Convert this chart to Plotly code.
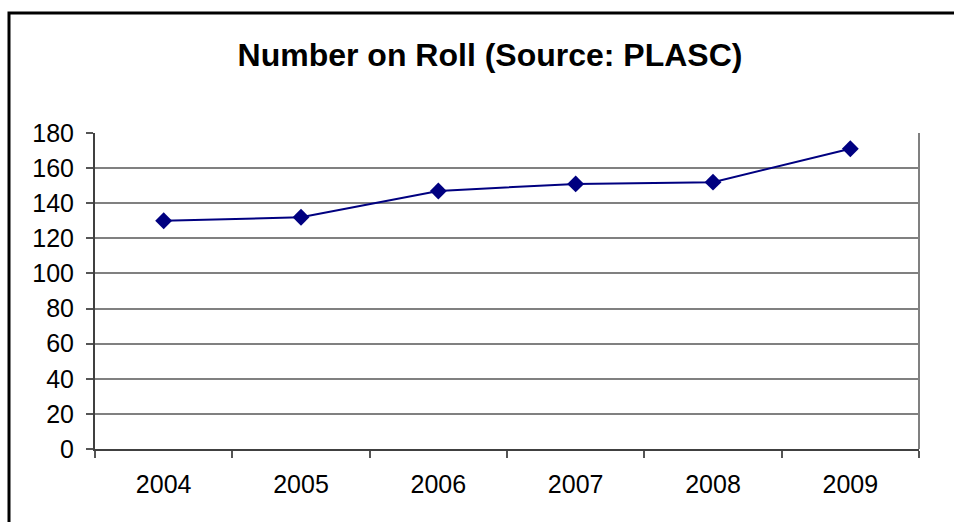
import plotly.graph_objects as go

# Number on roll by year (PLASC census)
years = ["2004", "2005", "2006", "2007", "2008", "2009"]
pupils = [130, 132, 147, 151, 152, 171]
y_ticks = [0, 20, 40, 60, 80, 100, 120, 140, 160, 180]

W, H = 954, 522
ML, MR, MT, MB = 95, 35, 133, 73
pw, ph = W - ML - MR, H - MT - MB

fig = go.Figure()
fig.add_trace(go.Scatter(
    x=years, y=pupils, mode="lines+markers",
    line=dict(color="#000080", width=2),
    marker=dict(symbol="diamond", size=13, color="#000080"),
    showlegend=False, cliponaxis=False,
))

font = "Liberation Sans, Arial, sans-serif"
fig.update_layout(
    width=W, height=H,
    margin=dict(l=ML, r=MR, t=MT, b=MB),
    paper_bgcolor="white", plot_bgcolor="white",
    title=dict(text="<b>Number on Roll (Source: PLASC)</b>",
               x=490 / W, xref="container", xanchor="center",
               y=1 - 55 / H, yanchor="middle",
               font=dict(family=font, size=32, color="black")),
    font=dict(family=font, size=25, color="black"),
    xaxis=dict(
        type="category", range=[-0.5, len(years) - 0.5],
        tickson="boundaries", ticks="outside",
        ticklen=7, tickwidth=1.5, tickcolor="#555555",
        showline=True, linecolor="#404040", linewidth=2,
        showgrid=False, mirror=False,
        tickfont=dict(size=25, color="black"),
        ticklabelstandoff=12,
    ),
    yaxis=dict(
        range=[0, 180], tickvals=y_ticks, ticks="outside",
        ticklen=7, tickwidth=1.5, tickcolor="#555555",
        showline=True, linecolor="#404040", linewidth=2,
        showgrid=True, gridcolor="#808080", gridwidth=1.5,
        zeroline=False, tickfont=dict(size=25, color="black"),
        ticklabelstandoff=7,
    ),
    shapes=[
        # right edge of the plot area
        dict(type="line", xref="paper", yref="paper", x0=1, x1=1, y0=0, y1=1,
             line=dict(color="#808080", width=2)),
        # outer chart frame
        dict(type="rect", xref="paper", yref="paper",
             x0=(9 - ML) / pw, x1=(W + 20 - ML) / pw,
             y0=-(H + 20 - ph - MT) / ph, y1=1 + (MT - 13) / ph,
             line=dict(color="black", width=3), layer="below"),
    ],
)

fig.write_html("out.html")
